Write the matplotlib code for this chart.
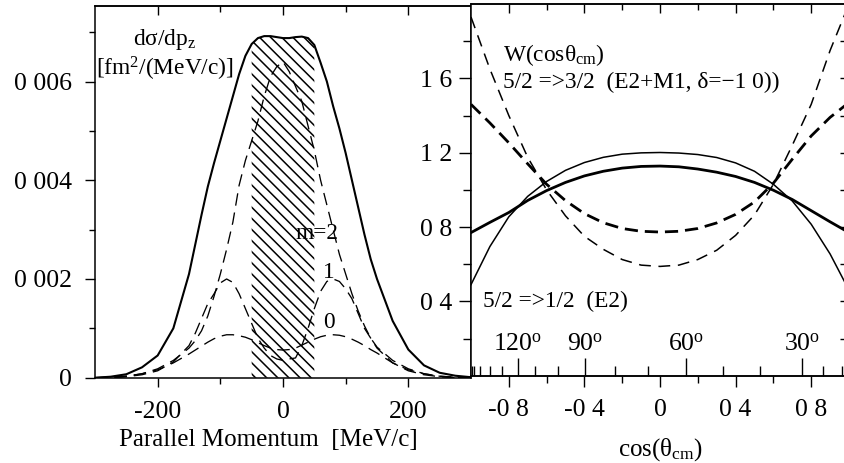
import numpy as np
import matplotlib
matplotlib.use('Agg')
from matplotlib import pyplot as plt

plt.rcParams['font.family'] = ['Liberation Serif', 'DejaVu Serif']
plt.rcParams['mathtext.fontset'] = 'custom'
plt.rcParams['mathtext.rm'] = 'Liberation Serif'
plt.rcParams['mathtext.it'] = 'Liberation Serif:italic'
plt.rcParams['lines.scale_dashes'] = False
plt.rcParams['hatch.linewidth'] = 1.1
plt.rcParams['axes.linewidth'] = 1.1

# ---- left panel: parallel momentum distributions ----
p_mom = [-300, -275, -250, -225, -200, -175, -150, -140, -130, -120, -110, -100, -90, -80,
         -70, -60, -50, -40, -30, -20, -10, 0, 10, 20, 30, 40, 50, 60, 70, 80, 90, 100,
         110, 120, 130, 140, 150, 175, 200, 225, 250, 275, 300]
sig_total = [0.0, 0.00002, 0.00007, 0.00021, 0.00045, 0.00100, 0.0021, 0.0027, 0.0033, 0.00387,
             0.00435, 0.0048, 0.00525, 0.0057, 0.00615, 0.00652, 0.00676, 0.00688, 0.00692, 0.00692,
             0.0069, 0.00688, 0.00688, 0.0069, 0.00691, 0.00688, 0.00674, 0.00638, 0.0060, 0.0055,
             0.00505, 0.00455, 0.0040, 0.00345, 0.0029, 0.0024, 0.0020, 0.00115, 0.00057, 0.00025,
             0.0001, 0.00004, 0.00001]
sig_m2 = [0.0, 0.00001, 0.00003, 0.00008, 0.00018, 0.00035, 0.0006, 0.00075, 0.00095, 0.00125,
          0.00165, 0.0021, 0.0026, 0.00315, 0.0039, 0.0044, 0.0048, 0.0052, 0.0057, 0.0061,
          0.0063, 0.0064, 0.0062, 0.0059, 0.0056, 0.0051, 0.0046, 0.0040, 0.0035, 0.0030,
          0.0025, 0.0021, 0.0017, 0.00135, 0.00105, 0.0008, 0.00062, 0.00035, 0.00018, 0.00008,
          0.00003, 0.00001, 0.0]
sig_m1 = [0.0, 0.0, 0.00002, 0.00006, 0.00014, 0.00032, 0.00065, 0.0009, 0.0012, 0.0015,
          0.0017, 0.00192, 0.0020, 0.00193, 0.0017, 0.0014, 0.0011, 0.0008, 0.0006, 0.00045,
          0.00038, 0.00035, 0.00038, 0.0004, 0.00065, 0.0010, 0.0014, 0.00175, 0.00195, 0.0020,
          0.00195, 0.0018, 0.0016, 0.0013, 0.0010, 0.0008, 0.0006, 0.0003, 0.00014, 0.00006,
          0.00002, 0.0, 0.0]
sig_m0 = [0.0, 0.00001, 0.00003, 0.00008, 0.00016, 0.0003, 0.00048, 0.00056, 0.00064, 0.00072,
          0.00079, 0.00084, 0.00087, 0.00087, 0.00085, 0.00082, 0.00077, 0.00071, 0.00065, 0.0006,
          0.00057, 0.00056, 0.00057, 0.0006, 0.00066, 0.00072, 0.00078, 0.00083, 0.00086, 0.00087,
          0.00086, 0.00083, 0.00078, 0.00072, 0.00065, 0.00057, 0.0005, 0.0003, 0.00016, 0.00008,
          0.00003, 0.00001, 0.0]
window_lo, window_hi = -50, 50  # hatched momentum window

left_xticks = [-200, 0, 200]
left_xticklabels = ['-200', '0', '200']
left_xminor = [-100, 100]
left_yticks = [0, 0.002, 0.004, 0.006]
left_yticklabels = ['0', '0 002', '0 004', '0 006']
left_yminor = [0.001, 0.003, 0.005, 0.007]

# ---- right panel: angular distributions ----
cos_cm = [-1.0, -0.9, -0.8, -0.7, -0.6, -0.5, -0.4, -0.3, -0.2, -0.1, 0.0,
          0.1, 0.2, 0.3, 0.4, 0.5, 0.6, 0.7, 0.8, 0.9, 1.0]
w_e2_thin = [0.49, 0.695, 0.855, 0.965, 1.045, 1.105, 1.147, 1.175, 1.192, 1.199, 1.201,
             1.198, 1.19, 1.174, 1.145, 1.10, 1.03, 0.94, 0.815, 0.655, 0.46]
w_e2_thick = [0.77, 0.825, 0.878, 0.943, 0.996, 1.04, 1.075, 1.10, 1.117, 1.126, 1.128,
              1.124, 1.112, 1.095, 1.072, 1.04, 0.998, 0.948, 0.888, 0.828, 0.77]
w_mix_thick = [1.46, 1.36, 1.253, 1.14, 1.03, 0.942, 0.872, 0.823, 0.792, 0.777, 0.773,
               0.777, 0.792, 0.822, 0.868, 0.935, 1.036, 1.165, 1.29, 1.39, 1.47]
w_mix_thin = [1.93, 1.65, 1.40, 1.175, 1.00, 0.86, 0.75, 0.68, 0.625, 0.595, 0.588,
              0.595, 0.625, 0.675, 0.755, 0.865, 1.03, 1.24, 1.46, 1.75, 2.0]

right_xticks = [-0.8, -0.4, 0, 0.4, 0.8]
right_xticklabels = ['-0 8', '-0 4', '0', '0 4', '0 8']
right_xminor = [-0.6, -0.2, 0.2, 0.6]
right_yticks = [0.4, 0.8, 1.2, 1.6]
right_yticklabels = ['0 4', '0 8', '1 2', '1 6']
right_yminor = [0.2, 0.6, 1.0, 1.4, 1.8]

# lab-angle scale drawn along the cos(theta_cm) axis
angle_pos = [-0.753, -0.398, 0.138, 0.750]
angle_labels = ['120$^\\mathregular{o}$', '90$^\\mathregular{o}$', '60$^\\mathregular{o}$', '30$^\\mathregular{o}$']
angle_minor_pos = [-0.994, -0.984, -0.952, -0.898, -0.834, -0.659, -0.539, -0.237, -0.061,
                   0.332, 0.531, 0.860, 0.965]

FS = 18.5      # tick labels
FS_LAB = 18    # axis labels
FS_TXT = 16.8  # annotations
W, H = 844, 463

fig = plt.figure(figsize=(W / 100, H / 100), dpi=100)
ax1 = fig.add_axes([95 / W, (H - 377.7) / H, 376 / W, 371.7 / H])
ax2 = fig.add_axes([471 / W, (H - 375.7) / H, 378 / W, 371.7 / H])

# left panel
p = np.array(p_mom)
tot = np.array(sig_total)
win = (p >= window_lo) & (p <= window_hi)
ax1.fill_between(p[win], 0, tot[win], facecolor='none', edgecolor='black',
                 hatch='\\\\\\', linewidth=0, zorder=1)
ax1.plot(p, tot, color='black', lw=1.5, zorder=3)
for series in (sig_m2, sig_m1, sig_m0):
    ax1.plot(p, series, color='black', lw=0.95, dashes=(9, 5), zorder=3)

ax1.set_xlim(-300, 300)
ax1.set_ylim(0, 0.00753)
ax1.set_xticks(left_xticks, left_xticklabels)
ax1.set_xticks(left_xminor, minor=True)
ax1.set_yticks(left_yticks, left_yticklabels)
ax1.set_yticks(left_yminor, minor=True)
ax1.tick_params(which='both', direction='out', labelsize=FS, top=False, right=False, width=1)
ax1.tick_params(axis='x', which='major', length=6.5, pad=10)
ax1.tick_params(axis='x', which='minor', length=4.5)
ax1.tick_params(axis='y', which='major', length=7.5, pad=9)
ax1.tick_params(axis='y', which='minor', length=4.5)
top1 = ax1.secondary_xaxis('top')
top1.set_xticks(left_xticks)
top1.set_xticks(left_xminor, minor=True)
top1.tick_params(which='both', direction='in', labeltop=False, width=1)
top1.tick_params(which='major', length=6.5)
top1.tick_params(which='minor', length=4)

ax1.text(0.186, 0.895, 'd\u03c3/dp$_\\mathregular{z}$', transform=ax1.transAxes,
         ha='center', va='baseline', fontsize=FS_TXT)
ax1.text(0.186, 0.812, '[fm$^\\mathregular{2}$/(MeV/c)]', transform=ax1.transAxes,
         ha='center', va='baseline', fontsize=FS_TXT)
ax1.text(0.532, 0.372, 'm=2', transform=ax1.transAxes, ha='left', va='baseline', fontsize=FS_TXT)
ax1.text(0.606, 0.267, '1', transform=ax1.transAxes, ha='left', va='baseline', fontsize=FS_TXT)
ax1.text(0.608, 0.134, '0', transform=ax1.transAxes, ha='left', va='baseline', fontsize=FS_TXT)
ax1.set_xlabel('Parallel Momentum  [MeV/c]', fontsize=FS_LAB)
ax1.xaxis.set_label_coords(0.46, -0.137)

# right panel
ax2.plot(cos_cm, w_e2_thin, color='black', lw=1.1)
ax2.plot(cos_cm, w_e2_thick, color='black', lw=2.0)
ax2.plot(cos_cm, w_mix_thick, color='black', lw=2.0, dashes=(9.5, 5))
ax2.plot(cos_cm, w_mix_thin, color='black', lw=1.1, dashes=(8.5, 5.5))

ax2.set_xlim(-1, 1)
ax2.set_ylim(0, 2.0)
ax2.set_xticks(right_xticks, right_xticklabels)
ax2.set_xticks(right_xminor, minor=True)
ax2.set_yticks(right_yticks, right_yticklabels)
ax2.set_yticks(right_yminor, minor=True)
ax2.tick_params(which='both', direction='out', labelsize=FS, top=False, right=False, width=1)
ax2.tick_params(axis='x', which='major', length=8, pad=9)
ax2.tick_params(axis='x', which='minor', length=5)
ax2.tick_params(axis='y', which='major', length=8.5, pad=5)
ax2.tick_params(axis='y', which='minor', length=6)

top2 = ax2.secondary_xaxis('top')
top2.set_xticks(right_xticks)
top2.set_xticks(right_xminor, minor=True)
top2.tick_params(which='both', direction='in', labeltop=False, width=1)
top2.tick_params(which='major', length=6.5)
top2.tick_params(which='minor', length=4)

side2 = ax2.secondary_yaxis('right')
side2.set_yticks(right_yticks + right_yminor)
side2.tick_params(direction='in', labelright=False, length=6.5, width=1)

ang = ax2.secondary_xaxis('bottom')
ang.set_xticks(angle_pos, angle_labels)
ang.set_xticks(angle_minor_pos, minor=True)
ang.tick_params(which='both', direction='in', labelsize=FS, width=1)
ang.tick_params(which='major', length=13, pad=-30)
ang.tick_params(which='minor', length=7)

ax2.text(0.085, 0.847, 'W(cos\u03b8$_\\mathregular{cm}$)', transform=ax2.transAxes,
         ha='left', va='baseline', fontsize=FS_TXT)
ax2.text(0.085, 0.773, '5/2 =>3/2  (E2+M1, \u03b4=\u22121 0))', transform=ax2.transAxes,
         ha='left', va='baseline', fontsize=FS_TXT)
ax2.text(0.033, 0.186, '5/2 =>1/2  (E2)', transform=ax2.transAxes,
         ha='left', va='baseline', fontsize=FS_TXT)
ax2.set_xlabel('cos(\u03b8$_\\mathregular{cm}$)', fontsize=FS_LAB)
ax2.xaxis.set_label_coords(0.502, -0.163)

fig.savefig('out.png', dpi=100)
